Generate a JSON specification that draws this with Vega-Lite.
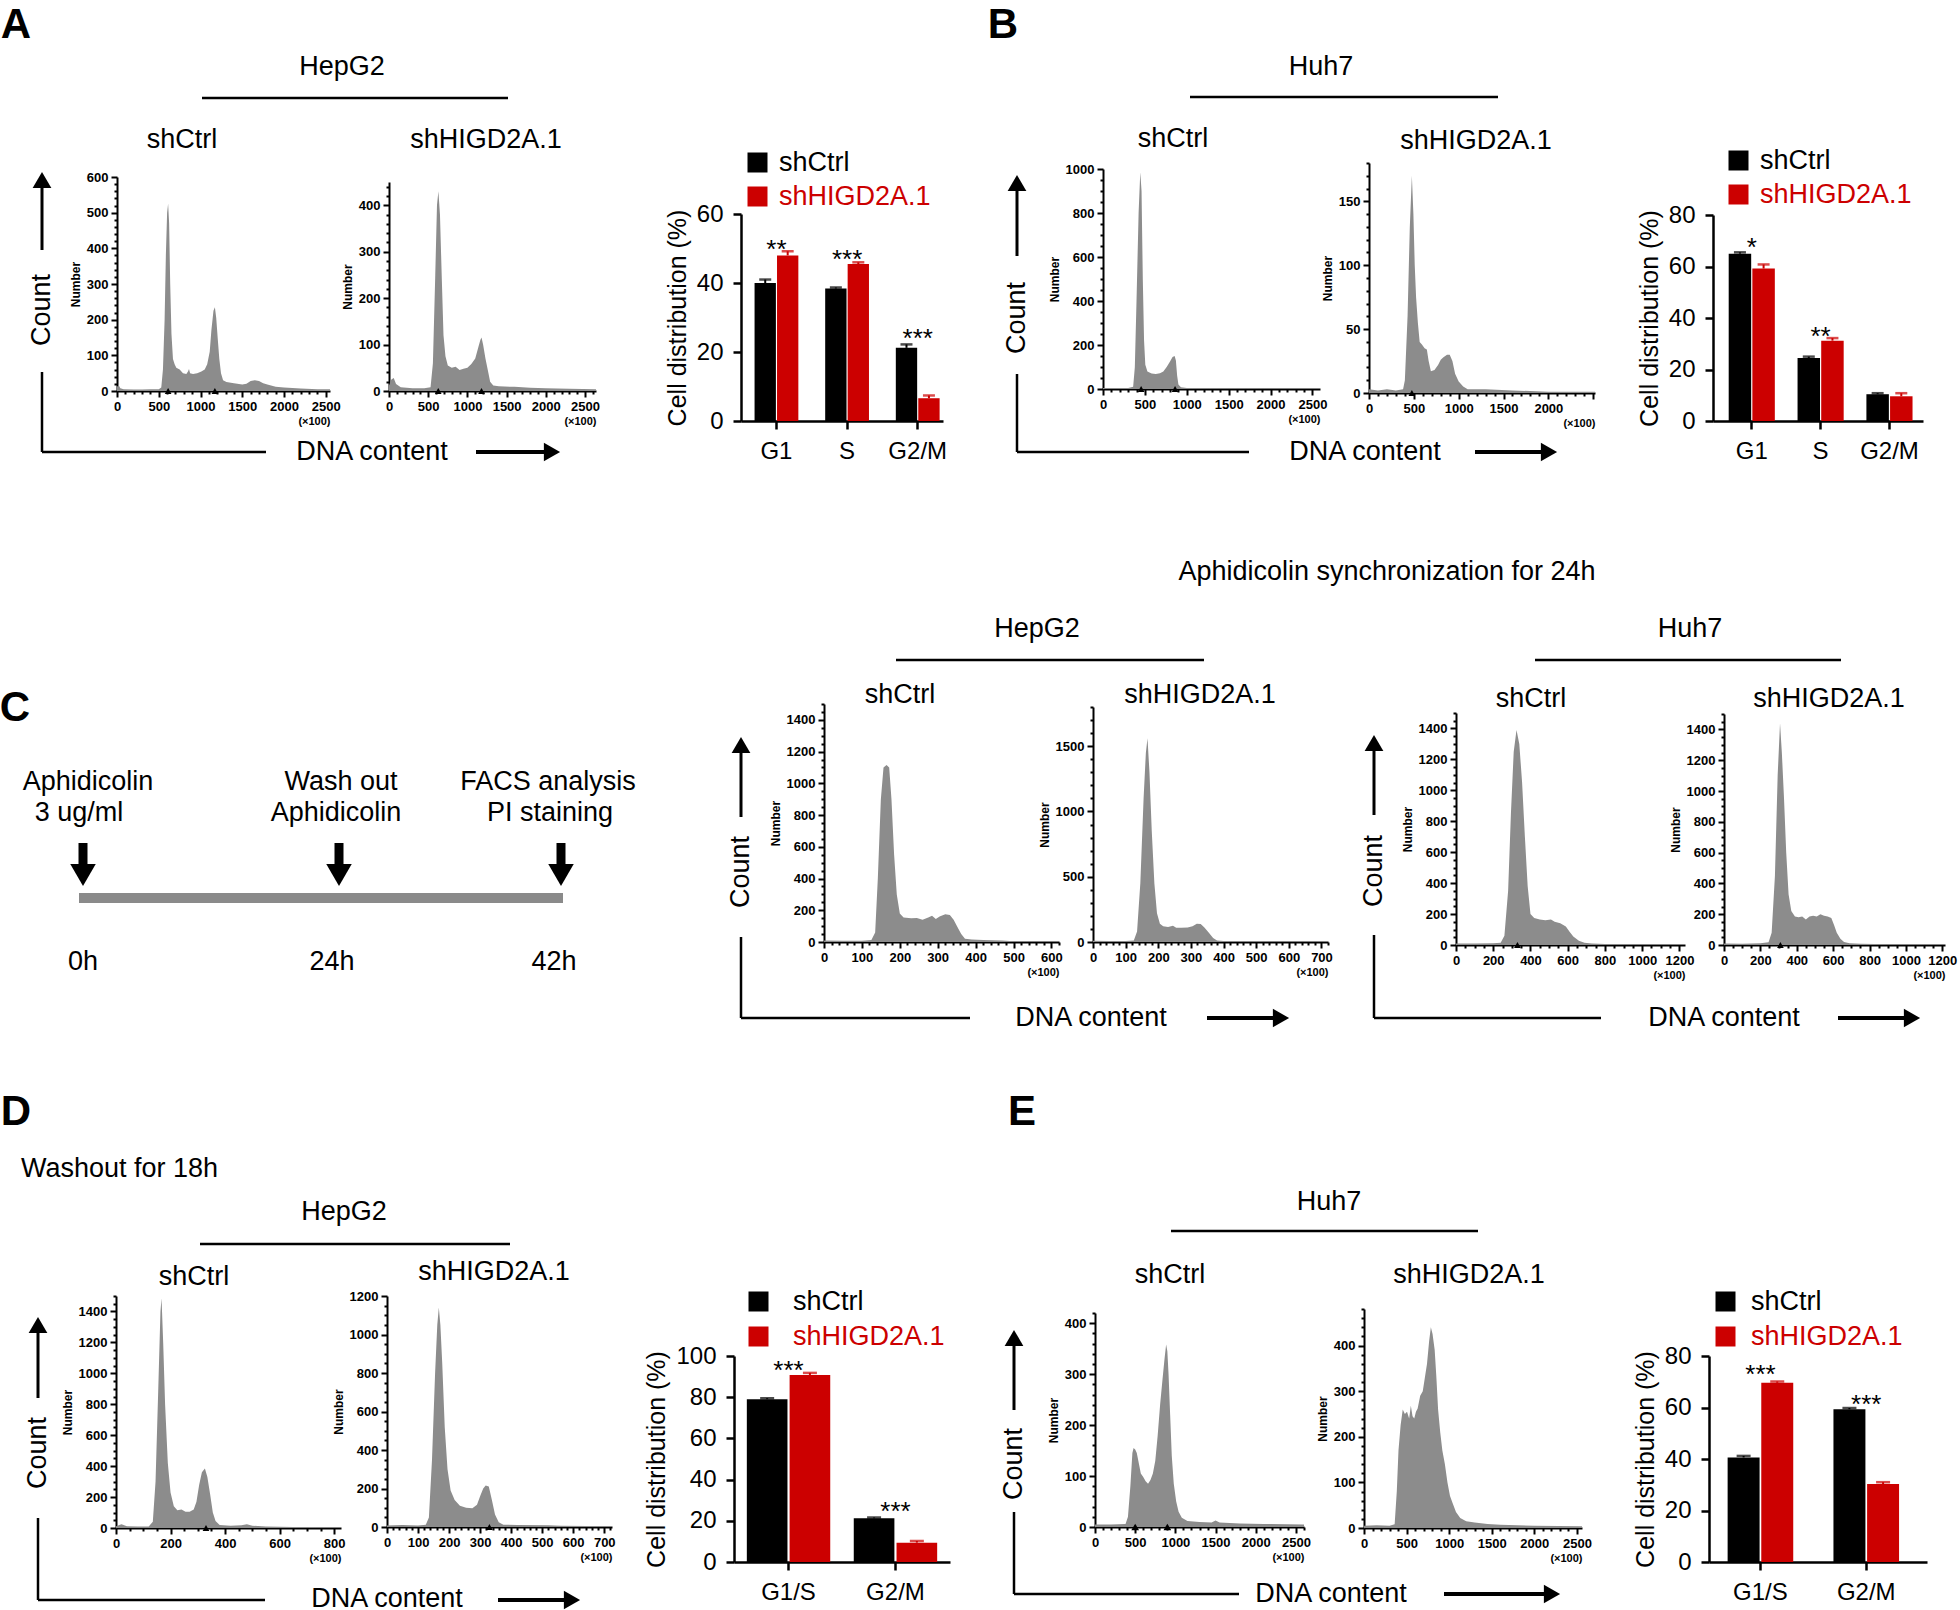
{
"$schema":"https://vega.github.io/schema/vega-lite/v6.json",
"width":1960,"height":1610,
"autosize":{"type":"none"},
"padding":0,
"background":"white",
"resolve":{"scale":{"x":"independent","y":"independent","color":"independent","xOffset":"independent"},"legend":{"color":"independent"},"axis":{"x":"independent","y":"independent"}},
"config":{
"font":"Liberation Sans",
"view":{"stroke":null},
"axis":{"domainColor":"black","domainWidth":2,"tickColor":"black","tickWidth":2,"labelColor":"black","labelFont":"Liberation Sans","labelFontWeight":"bold","labelFontSize":13,"labelPadding":3,"labelOverlap":false,"labelFlush":false,"titleFont":"Liberation Sans","titleFontWeight":"bold","titleFontSize":12,"titleColor":"black","grid":false},
"axisX":{"titleAnchor":"end","titlePadding":2},
"axisY":{"titlePadding":4},
"text":{"font":"Liberation Sans","color":"black"}
},
"datasets":{
"hist":[
{"p":"A1","x":0,"n":12},{"p":"A1","x":20,"n":16},{"p":"A1","x":40,"n":8},{"p":"A1","x":80,"n":5},{"p":"A1","x":200,"n":4},{"p":"A1","x":300,"n":4},{"p":"A1","x":400,"n":5},{"p":"A1","x":500,"n":5},{"p":"A1","x":530,"n":10},{"p":"A1","x":550,"n":60},{"p":"A1","x":570,"n":200},{"p":"A1","x":585,"n":380},{"p":"A1","x":600,"n":500},{"p":"A1","x":612,"n":525},{"p":"A1","x":624,"n":470},{"p":"A1","x":637,"n":300},{"p":"A1","x":652,"n":160},{"p":"A1","x":670,"n":90},{"p":"A1","x":690,"n":75},{"p":"A1","x":710,"n":65},{"p":"A1","x":750,"n":60},{"p":"A1","x":790,"n":50},{"p":"A1","x":830,"n":48},{"p":"A1","x":850,"n":55},{"p":"A1","x":862,"n":62},{"p":"A1","x":875,"n":50},{"p":"A1","x":910,"n":48},{"p":"A1","x":960,"n":50},{"p":"A1","x":1010,"n":55},{"p":"A1","x":1050,"n":60},{"p":"A1","x":1080,"n":75},{"p":"A1","x":1110,"n":110},{"p":"A1","x":1130,"n":170},{"p":"A1","x":1155,"n":225},{"p":"A1","x":1172,"n":235},{"p":"A1","x":1188,"n":205},{"p":"A1","x":1205,"n":150},{"p":"A1","x":1225,"n":90},{"p":"A1","x":1245,"n":50},{"p":"A1","x":1270,"n":30},{"p":"A1","x":1310,"n":25},{"p":"A1","x":1400,"n":22},{"p":"A1","x":1500,"n":18},{"p":"A1","x":1550,"n":20},{"p":"A1","x":1600,"n":28},{"p":"A1","x":1650,"n":30},{"p":"A1","x":1700,"n":28},{"p":"A1","x":1750,"n":22},{"p":"A1","x":1800,"n":18},{"p":"A1","x":1900,"n":12},{"p":"A1","x":2000,"n":10},{"p":"A1","x":2200,"n":7},{"p":"A1","x":2400,"n":5},{"p":"A1","x":2550,"n":5},
{"p":"A2","x":0,"n":12},{"p":"A2","x":30,"n":25},{"p":"A2","x":60,"n":28},{"p":"A2","x":90,"n":15},{"p":"A2","x":150,"n":8},{"p":"A2","x":300,"n":6},{"p":"A2","x":450,"n":6},{"p":"A2","x":530,"n":8},{"p":"A2","x":560,"n":60},{"p":"A2","x":590,"n":250},{"p":"A2","x":612,"n":400},{"p":"A2","x":630,"n":430},{"p":"A2","x":650,"n":380},{"p":"A2","x":672,"n":250},{"p":"A2","x":695,"n":120},{"p":"A2","x":720,"n":75},{"p":"A2","x":750,"n":55},{"p":"A2","x":800,"n":50},{"p":"A2","x":850,"n":52},{"p":"A2","x":900,"n":45},{"p":"A2","x":950,"n":48},{"p":"A2","x":1000,"n":50},{"p":"A2","x":1050,"n":58},{"p":"A2","x":1100,"n":70},{"p":"A2","x":1140,"n":95},{"p":"A2","x":1165,"n":110},{"p":"A2","x":1180,"n":115},{"p":"A2","x":1200,"n":100},{"p":"A2","x":1230,"n":70},{"p":"A2","x":1260,"n":45},{"p":"A2","x":1290,"n":20},{"p":"A2","x":1330,"n":12},{"p":"A2","x":1400,"n":10},{"p":"A2","x":1600,"n":9},{"p":"A2","x":1800,"n":7},{"p":"A2","x":2000,"n":6},{"p":"A2","x":2300,"n":5},{"p":"A2","x":2640,"n":4},
{"p":"B1","x":0,"n":5},{"p":"B1","x":100,"n":4},{"p":"B1","x":200,"n":5},{"p":"B1","x":300,"n":5},{"p":"B1","x":360,"n":10},{"p":"B1","x":380,"n":100},{"p":"B1","x":400,"n":400},{"p":"B1","x":425,"n":800},{"p":"B1","x":445,"n":985},{"p":"B1","x":460,"n":900},{"p":"B1","x":475,"n":500},{"p":"B1","x":490,"n":220},{"p":"B1","x":505,"n":110},{"p":"B1","x":530,"n":80},{"p":"B1","x":580,"n":70},{"p":"B1","x":630,"n":68},{"p":"B1","x":680,"n":72},{"p":"B1","x":720,"n":80},{"p":"B1","x":760,"n":100},{"p":"B1","x":800,"n":125},{"p":"B1","x":830,"n":145},{"p":"B1","x":855,"n":150},{"p":"B1","x":870,"n":130},{"p":"B1","x":885,"n":60},{"p":"B1","x":900,"n":20},{"p":"B1","x":930,"n":8},{"p":"B1","x":1000,"n":5},{"p":"B1","x":1200,"n":3},{"p":"B1","x":1500,"n":2},{"p":"B1","x":2000,"n":1},{"p":"B1","x":2590,"n":1},
{"p":"B2","x":0,"n":3},{"p":"B2","x":100,"n":2},{"p":"B2","x":200,"n":3},{"p":"B2","x":300,"n":2},{"p":"B2","x":380,"n":3},{"p":"B2","x":400,"n":10},{"p":"B2","x":430,"n":60},{"p":"B2","x":455,"n":130},{"p":"B2","x":478,"n":170},{"p":"B2","x":495,"n":140},{"p":"B2","x":510,"n":100},{"p":"B2","x":525,"n":75},{"p":"B2","x":545,"n":55},{"p":"B2","x":565,"n":40},{"p":"B2","x":590,"n":38},{"p":"B2","x":620,"n":35},{"p":"B2","x":645,"n":34},{"p":"B2","x":665,"n":25},{"p":"B2","x":690,"n":17},{"p":"B2","x":730,"n":18},{"p":"B2","x":770,"n":22},{"p":"B2","x":800,"n":26},{"p":"B2","x":830,"n":28},{"p":"B2","x":870,"n":30},{"p":"B2","x":900,"n":30},{"p":"B2","x":930,"n":25},{"p":"B2","x":960,"n":15},{"p":"B2","x":1000,"n":9},{"p":"B2","x":1050,"n":5},{"p":"B2","x":1100,"n":3},{"p":"B2","x":1300,"n":3},{"p":"B2","x":1600,"n":2},{"p":"B2","x":2000,"n":1},{"p":"B2","x":2520,"n":1},
{"p":"C1","x":0,"n":10},{"p":"C1","x":50,"n":8},{"p":"C1","x":100,"n":8},{"p":"C1","x":125,"n":12},{"p":"C1","x":135,"n":60},{"p":"C1","x":142,"n":400},{"p":"C1","x":150,"n":900},{"p":"C1","x":157,"n":1100},{"p":"C1","x":165,"n":1115},{"p":"C1","x":172,"n":1100},{"p":"C1","x":178,"n":900},{"p":"C1","x":185,"n":550},{"p":"C1","x":192,"n":300},{"p":"C1","x":200,"n":180},{"p":"C1","x":210,"n":155},{"p":"C1","x":230,"n":150},{"p":"C1","x":245,"n":152},{"p":"C1","x":260,"n":140},{"p":"C1","x":275,"n":155},{"p":"C1","x":285,"n":165},{"p":"C1","x":295,"n":145},{"p":"C1","x":305,"n":160},{"p":"C1","x":320,"n":175},{"p":"C1","x":332,"n":170},{"p":"C1","x":342,"n":140},{"p":"C1","x":352,"n":95},{"p":"C1","x":362,"n":50},{"p":"C1","x":372,"n":20},{"p":"C1","x":390,"n":15},{"p":"C1","x":420,"n":12},{"p":"C1","x":470,"n":10},{"p":"C1","x":500,"n":5},{"p":"C1","x":550,"n":3},{"p":"C1","x":620,"n":2},
{"p":"C2","x":0,"n":10},{"p":"C2","x":50,"n":8},{"p":"C2","x":100,"n":8},{"p":"C2","x":125,"n":12},{"p":"C2","x":135,"n":80},{"p":"C2","x":145,"n":450},{"p":"C2","x":155,"n":1100},{"p":"C2","x":162,"n":1450},{"p":"C2","x":167,"n":1560},{"p":"C2","x":173,"n":1300},{"p":"C2","x":180,"n":850},{"p":"C2","x":188,"n":450},{"p":"C2","x":196,"n":220},{"p":"C2","x":205,"n":140},{"p":"C2","x":215,"n":120},{"p":"C2","x":230,"n":115},{"p":"C2","x":245,"n":125},{"p":"C2","x":255,"n":110},{"p":"C2","x":270,"n":110},{"p":"C2","x":290,"n":112},{"p":"C2","x":305,"n":120},{"p":"C2","x":318,"n":140},{"p":"C2","x":330,"n":138},{"p":"C2","x":342,"n":110},{"p":"C2","x":355,"n":70},{"p":"C2","x":368,"n":30},{"p":"C2","x":380,"n":12},{"p":"C2","x":400,"n":8},{"p":"C2","x":450,"n":6},{"p":"C2","x":500,"n":5},{"p":"C2","x":600,"n":4},{"p":"C2","x":720,"n":3},
{"p":"C3","x":0,"n":10},{"p":"C3","x":100,"n":10},{"p":"C3","x":200,"n":12},{"p":"C3","x":240,"n":15},{"p":"C3","x":260,"n":60},{"p":"C3","x":280,"n":350},{"p":"C3","x":295,"n":850},{"p":"C3","x":310,"n":1250},{"p":"C3","x":325,"n":1390},{"p":"C3","x":340,"n":1300},{"p":"C3","x":355,"n":1050},{"p":"C3","x":370,"n":700},{"p":"C3","x":385,"n":380},{"p":"C3","x":400,"n":200},{"p":"C3","x":420,"n":175},{"p":"C3","x":450,"n":165},{"p":"C3","x":480,"n":160},{"p":"C3","x":510,"n":165},{"p":"C3","x":530,"n":150},{"p":"C3","x":560,"n":140},{"p":"C3","x":590,"n":120},{"p":"C3","x":610,"n":85},{"p":"C3","x":630,"n":55},{"p":"C3","x":660,"n":28},{"p":"C3","x":690,"n":15},{"p":"C3","x":730,"n":10},{"p":"C3","x":800,"n":7},{"p":"C3","x":1000,"n":4},{"p":"C3","x":1230,"n":3},
{"p":"C4","x":0,"n":10},{"p":"C4","x":100,"n":8},{"p":"C4","x":200,"n":12},{"p":"C4","x":245,"n":18},{"p":"C4","x":262,"n":80},{"p":"C4","x":280,"n":450},{"p":"C4","x":295,"n":1100},{"p":"C4","x":308,"n":1440},{"p":"C4","x":318,"n":1250},{"p":"C4","x":330,"n":950},{"p":"C4","x":342,"n":600},{"p":"C4","x":355,"n":330},{"p":"C4","x":370,"n":220},{"p":"C4","x":390,"n":185},{"p":"C4","x":410,"n":180},{"p":"C4","x":430,"n":185},{"p":"C4","x":450,"n":165},{"p":"C4","x":470,"n":185},{"p":"C4","x":490,"n":190},{"p":"C4","x":510,"n":185},{"p":"C4","x":530,"n":200},{"p":"C4","x":550,"n":190},{"p":"C4","x":570,"n":185},{"p":"C4","x":590,"n":175},{"p":"C4","x":605,"n":130},{"p":"C4","x":620,"n":80},{"p":"C4","x":640,"n":40},{"p":"C4","x":660,"n":20},{"p":"C4","x":690,"n":12},{"p":"C4","x":750,"n":8},{"p":"C4","x":900,"n":5},{"p":"C4","x":1215,"n":3},
{"p":"D1","x":0,"n":12},{"p":"D1","x":20,"n":25},{"p":"D1","x":40,"n":12},{"p":"D1","x":80,"n":10},{"p":"D1","x":120,"n":10},{"p":"D1","x":135,"n":40},{"p":"D1","x":145,"n":300},{"p":"D1","x":155,"n":900},{"p":"D1","x":163,"n":1400},{"p":"D1","x":167,"n":1485},{"p":"D1","x":173,"n":1200},{"p":"D1","x":180,"n":800},{"p":"D1","x":190,"n":420},{"p":"D1","x":200,"n":230},{"p":"D1","x":212,"n":140},{"p":"D1","x":225,"n":115},{"p":"D1","x":240,"n":120},{"p":"D1","x":255,"n":105},{"p":"D1","x":270,"n":105},{"p":"D1","x":285,"n":120},{"p":"D1","x":295,"n":170},{"p":"D1","x":305,"n":280},{"p":"D1","x":315,"n":360},{"p":"D1","x":326,"n":385},{"p":"D1","x":335,"n":330},{"p":"D1","x":345,"n":220},{"p":"D1","x":355,"n":100},{"p":"D1","x":365,"n":45},{"p":"D1","x":380,"n":20},{"p":"D1","x":420,"n":15},{"p":"D1","x":460,"n":18},{"p":"D1","x":480,"n":25},{"p":"D1","x":500,"n":15},{"p":"D1","x":550,"n":10},{"p":"D1","x":650,"n":6},{"p":"D1","x":825,"n":4},
{"p":"D2","x":0,"n":8},{"p":"D2","x":50,"n":10},{"p":"D2","x":100,"n":8},{"p":"D2","x":125,"n":12},{"p":"D2","x":135,"n":50},{"p":"D2","x":145,"n":350},{"p":"D2","x":155,"n":800},{"p":"D2","x":162,"n":1050},{"p":"D2","x":167,"n":1140},{"p":"D2","x":172,"n":1050},{"p":"D2","x":178,"n":850},{"p":"D2","x":186,"n":520},{"p":"D2","x":195,"n":300},{"p":"D2","x":205,"n":190},{"p":"D2","x":218,"n":140},{"p":"D2","x":235,"n":110},{"p":"D2","x":255,"n":100},{"p":"D2","x":275,"n":98},{"p":"D2","x":290,"n":115},{"p":"D2","x":300,"n":160},{"p":"D2","x":310,"n":200},{"p":"D2","x":318,"n":215},{"p":"D2","x":328,"n":210},{"p":"D2","x":338,"n":140},{"p":"D2","x":348,"n":65},{"p":"D2","x":360,"n":25},{"p":"D2","x":375,"n":12},{"p":"D2","x":420,"n":10},{"p":"D2","x":520,"n":9},{"p":"D2","x":560,"n":6},{"p":"D2","x":725,"n":4},
{"p":"E1","x":0,"n":5},{"p":"E1","x":200,"n":5},{"p":"E1","x":380,"n":6},{"p":"E1","x":410,"n":20},{"p":"E1","x":440,"n":80},{"p":"E1","x":465,"n":145},{"p":"E1","x":480,"n":155},{"p":"E1","x":500,"n":152},{"p":"E1","x":520,"n":145},{"p":"E1","x":545,"n":125},{"p":"E1","x":570,"n":105},{"p":"E1","x":600,"n":98},{"p":"E1","x":630,"n":90},{"p":"E1","x":660,"n":85},{"p":"E1","x":690,"n":92},{"p":"E1","x":720,"n":105},{"p":"E1","x":750,"n":130},{"p":"E1","x":780,"n":180},{"p":"E1","x":810,"n":240},{"p":"E1","x":840,"n":290},{"p":"E1","x":865,"n":330},{"p":"E1","x":885,"n":358},{"p":"E1","x":900,"n":345},{"p":"E1","x":915,"n":300},{"p":"E1","x":935,"n":220},{"p":"E1","x":955,"n":140},{"p":"E1","x":980,"n":85},{"p":"E1","x":1010,"n":50},{"p":"E1","x":1040,"n":30},{"p":"E1","x":1080,"n":18},{"p":"E1","x":1150,"n":12},{"p":"E1","x":1300,"n":10},{"p":"E1","x":1450,"n":9},{"p":"E1","x":1500,"n":13},{"p":"E1","x":1550,"n":9},{"p":"E1","x":1800,"n":7},{"p":"E1","x":2100,"n":6},{"p":"E1","x":2600,"n":5},
{"p":"E2","x":0,"n":5},{"p":"E2","x":150,"n":6},{"p":"E2","x":300,"n":5},{"p":"E2","x":360,"n":8},{"p":"E2","x":385,"n":80},{"p":"E2","x":405,"n":170},{"p":"E2","x":430,"n":225},{"p":"E2","x":455,"n":260},{"p":"E2","x":480,"n":250},{"p":"E2","x":505,"n":255},{"p":"E2","x":530,"n":240},{"p":"E2","x":550,"n":268},{"p":"E2","x":570,"n":245},{"p":"E2","x":590,"n":240},{"p":"E2","x":610,"n":255},{"p":"E2","x":630,"n":262},{"p":"E2","x":660,"n":290},{"p":"E2","x":690,"n":300},{"p":"E2","x":715,"n":330},{"p":"E2","x":740,"n":360},{"p":"E2","x":765,"n":410},{"p":"E2","x":785,"n":440},{"p":"E2","x":805,"n":425},{"p":"E2","x":830,"n":390},{"p":"E2","x":850,"n":330},{"p":"E2","x":870,"n":260},{"p":"E2","x":895,"n":210},{"p":"E2","x":920,"n":170},{"p":"E2","x":950,"n":140},{"p":"E2","x":980,"n":100},{"p":"E2","x":1010,"n":70},{"p":"E2","x":1040,"n":55},{"p":"E2","x":1080,"n":35},{"p":"E2","x":1130,"n":22},{"p":"E2","x":1200,"n":15},{"p":"E2","x":1300,"n":12},{"p":"E2","x":1450,"n":9},{"p":"E2","x":1600,"n":7},{"p":"E2","x":2000,"n":5},{"p":"E2","x":2560,"n":4}
],
"gates":[{"p":"A1","x":612},{"p":"A1","x":1172},{"p":"A2","x":628},{"p":"A2","x":1180},{"p":"B1","x":455},{"p":"B1","x":860},{"p":"B2","x":478},{"p":"C3","x":330},{"p":"C4","x":310},{"p":"D1","x":330},{"p":"D2","x":330},{"p":"E1","x":500},{"p":"E1","x":900}],
"bars":[
{"panel":"A","phase":"G1","group":"shCtrl","value":40.0,"upper":41.0},{"panel":"A","phase":"G1","group":"shHIGD2A.1","value":48.0,"upper":49.2},{"panel":"A","phase":"S","group":"shCtrl","value":38.4,"upper":38.7},{"panel":"A","phase":"S","group":"shHIGD2A.1","value":45.5,"upper":46.0},{"panel":"A","phase":"G2/M","group":"shCtrl","value":21.2,"upper":22.2},{"panel":"A","phase":"G2/M","group":"shHIGD2A.1","value":6.6,"upper":7.4},
{"panel":"B","phase":"G1","group":"shCtrl","value":65.0,"upper":65.5},{"panel":"B","phase":"G1","group":"shHIGD2A.1","value":59.2,"upper":60.8},{"panel":"B","phase":"S","group":"shCtrl","value":24.5,"upper":25.0},{"panel":"B","phase":"S","group":"shHIGD2A.1","value":31.2,"upper":32.2},{"panel":"B","phase":"G2/M","group":"shCtrl","value":10.4,"upper":10.8},{"panel":"B","phase":"G2/M","group":"shHIGD2A.1","value":9.6,"upper":10.8},
{"panel":"D","phase":"G1/S","group":"shCtrl","value":79.0,"upper":79.5},{"panel":"D","phase":"G1/S","group":"shHIGD2A.1","value":90.8,"upper":91.8},{"panel":"D","phase":"G2/M","group":"shCtrl","value":21.2,"upper":21.6},{"panel":"D","phase":"G2/M","group":"shHIGD2A.1","value":9.4,"upper":10.2},
{"panel":"E","phase":"G1/S","group":"shCtrl","value":40.6,"upper":41.2},{"panel":"E","phase":"G1/S","group":"shHIGD2A.1","value":69.6,"upper":70.1},{"panel":"E","phase":"G2/M","group":"shCtrl","value":59.3,"upper":59.8},{"panel":"E","phase":"G2/M","group":"shHIGD2A.1","value":30.3,"upper":31.0}
],
"stars":[
{"panel":"A","phase":"G1","stars":"**","y":51.5},{"panel":"A","phase":"S","stars":"***","y":48.6},{"panel":"A","phase":"G2/M","stars":"***","y":25.8},
{"panel":"B","phase":"G1","stars":"*","y":69.8},{"panel":"B","phase":"S","stars":"**","y":35.4},
{"panel":"D","phase":"G1/S","stars":"***","y":96},{"panel":"D","phase":"G2/M","stars":"***","y":27.8},
{"panel":"E","phase":"G1/S","stars":"***","y":75.2},{"panel":"E","phase":"G2/M","stars":"***","y":63.8}
]
},
"layer":[
{"data":{"values":[{"k":1}]},"layer":[
{"mark":{"type":"text","fontSize":42,"fontWeight":"bold"},"encoding":{"x":{"datum":16,"type":"quantitative","scale":{"domain":[0,1960],"nice":false,"zero":false},"axis":null},"y":{"datum":25,"type":"quantitative","scale":{"domain":[1610,0],"nice":false,"zero":false},"axis":null},"text":{"value":"A"}}},
{"mark":{"type":"text","fontSize":27},"encoding":{"x":{"datum":342,"type":"quantitative","scale":{"domain":[0,1960],"nice":false,"zero":false},"axis":null},"y":{"datum":67,"type":"quantitative","scale":{"domain":[1610,0],"nice":false,"zero":false},"axis":null},"text":{"value":"HepG2"}}},
{"mark":{"type":"rule","strokeWidth":2.5,"color":"black"},"encoding":{"x":{"datum":202,"type":"quantitative","scale":{"domain":[0,1960],"nice":false,"zero":false},"axis":null},"x2":{"datum":508},"y":{"datum":98,"type":"quantitative","scale":{"domain":[1610,0],"nice":false,"zero":false},"axis":null}}},
{"mark":{"type":"text","fontSize":27},"encoding":{"x":{"datum":182,"type":"quantitative","scale":{"domain":[0,1960],"nice":false,"zero":false},"axis":null},"y":{"datum":140,"type":"quantitative","scale":{"domain":[1610,0],"nice":false,"zero":false},"axis":null},"text":{"value":"shCtrl"}}},
{"mark":{"type":"text","fontSize":27},"encoding":{"x":{"datum":486,"type":"quantitative","scale":{"domain":[0,1960],"nice":false,"zero":false},"axis":null},"y":{"datum":140,"type":"quantitative","scale":{"domain":[1610,0],"nice":false,"zero":false},"axis":null},"text":{"value":"shHIGD2A.1"}}},
{"mark":{"type":"text","fontSize":42,"fontWeight":"bold"},"encoding":{"x":{"datum":1003,"type":"quantitative","scale":{"domain":[0,1960],"nice":false,"zero":false},"axis":null},"y":{"datum":25,"type":"quantitative","scale":{"domain":[1610,0],"nice":false,"zero":false},"axis":null},"text":{"value":"B"}}},
{"mark":{"type":"text","fontSize":27},"encoding":{"x":{"datum":1321,"type":"quantitative","scale":{"domain":[0,1960],"nice":false,"zero":false},"axis":null},"y":{"datum":67,"type":"quantitative","scale":{"domain":[1610,0],"nice":false,"zero":false},"axis":null},"text":{"value":"Huh7"}}},
{"mark":{"type":"rule","strokeWidth":2.5,"color":"black"},"encoding":{"x":{"datum":1190,"type":"quantitative","scale":{"domain":[0,1960],"nice":false,"zero":false},"axis":null},"x2":{"datum":1498},"y":{"datum":97,"type":"quantitative","scale":{"domain":[1610,0],"nice":false,"zero":false},"axis":null}}},
{"mark":{"type":"text","fontSize":27},"encoding":{"x":{"datum":1173,"type":"quantitative","scale":{"domain":[0,1960],"nice":false,"zero":false},"axis":null},"y":{"datum":139,"type":"quantitative","scale":{"domain":[1610,0],"nice":false,"zero":false},"axis":null},"text":{"value":"shCtrl"}}},
{"mark":{"type":"text","fontSize":27},"encoding":{"x":{"datum":1476,"type":"quantitative","scale":{"domain":[0,1960],"nice":false,"zero":false},"axis":null},"y":{"datum":141,"type":"quantitative","scale":{"domain":[1610,0],"nice":false,"zero":false},"axis":null},"text":{"value":"shHIGD2A.1"}}},

{"mark":{"type":"point","shape":"triangle-up","filled":true,"size":350,"color":"black","opacity":1},"encoding":{"x":{"datum":42,"type":"quantitative","scale":{"domain":[0,1960],"nice":false,"zero":false},"axis":null},"y":{"datum":180,"type":"quantitative","scale":{"domain":[1610,0],"nice":false,"zero":false},"axis":null}}},
{"mark":{"type":"rule","strokeWidth":3,"color":"black"},"encoding":{"x":{"datum":42,"type":"quantitative","scale":{"domain":[0,1960],"nice":false,"zero":false},"axis":null},"y":{"datum":188,"type":"quantitative","scale":{"domain":[1610,0],"nice":false,"zero":false},"axis":null},"y2":{"datum":250}}},
{"mark":{"type":"text","fontSize":27,"angle":270},"encoding":{"x":{"datum":42,"type":"quantitative","scale":{"domain":[0,1960],"nice":false,"zero":false},"axis":null},"y":{"datum":310,"type":"quantitative","scale":{"domain":[1610,0],"nice":false,"zero":false},"axis":null},"text":{"value":"Count"}}},
{"mark":{"type":"rule","strokeWidth":2.5,"color":"black"},"encoding":{"x":{"datum":42,"type":"quantitative","scale":{"domain":[0,1960],"nice":false,"zero":false},"axis":null},"y":{"datum":372,"type":"quantitative","scale":{"domain":[1610,0],"nice":false,"zero":false},"axis":null},"y2":{"datum":452}}},
{"mark":{"type":"rule","strokeWidth":2.5,"color":"black"},"encoding":{"x":{"datum":42,"type":"quantitative","scale":{"domain":[0,1960],"nice":false,"zero":false},"axis":null},"x2":{"datum":266},"y":{"datum":452,"type":"quantitative","scale":{"domain":[1610,0],"nice":false,"zero":false},"axis":null}}},
{"mark":{"type":"text","fontSize":27},"encoding":{"x":{"datum":372,"type":"quantitative","scale":{"domain":[0,1960],"nice":false,"zero":false},"axis":null},"y":{"datum":452,"type":"quantitative","scale":{"domain":[1610,0],"nice":false,"zero":false},"axis":null},"text":{"value":"DNA content"}}},
{"mark":{"type":"rule","strokeWidth":4,"color":"black"},"encoding":{"x":{"datum":476,"type":"quantitative","scale":{"domain":[0,1960],"nice":false,"zero":false},"axis":null},"x2":{"datum":546},"y":{"datum":452,"type":"quantitative","scale":{"domain":[1610,0],"nice":false,"zero":false},"axis":null}}},
{"mark":{"type":"point","shape":"triangle-right","filled":true,"size":350,"color":"black","opacity":1},"encoding":{"x":{"datum":552,"type":"quantitative","scale":{"domain":[0,1960],"nice":false,"zero":false},"axis":null},"y":{"datum":452,"type":"quantitative","scale":{"domain":[1610,0],"nice":false,"zero":false},"axis":null}}},

{"mark":{"type":"point","shape":"triangle-up","filled":true,"size":350,"color":"black","opacity":1},"encoding":{"x":{"datum":1017,"type":"quantitative","scale":{"domain":[0,1960],"nice":false,"zero":false},"axis":null},"y":{"datum":183,"type":"quantitative","scale":{"domain":[1610,0],"nice":false,"zero":false},"axis":null}}},
{"mark":{"type":"rule","strokeWidth":3,"color":"black"},"encoding":{"x":{"datum":1017,"type":"quantitative","scale":{"domain":[0,1960],"nice":false,"zero":false},"axis":null},"y":{"datum":191,"type":"quantitative","scale":{"domain":[1610,0],"nice":false,"zero":false},"axis":null},"y2":{"datum":256}}},
{"mark":{"type":"text","fontSize":27,"angle":270},"encoding":{"x":{"datum":1017,"type":"quantitative","scale":{"domain":[0,1960],"nice":false,"zero":false},"axis":null},"y":{"datum":318,"type":"quantitative","scale":{"domain":[1610,0],"nice":false,"zero":false},"axis":null},"text":{"value":"Count"}}},
{"mark":{"type":"rule","strokeWidth":2.5,"color":"black"},"encoding":{"x":{"datum":1017,"type":"quantitative","scale":{"domain":[0,1960],"nice":false,"zero":false},"axis":null},"y":{"datum":374,"type":"quantitative","scale":{"domain":[1610,0],"nice":false,"zero":false},"axis":null},"y2":{"datum":452}}},
{"mark":{"type":"rule","strokeWidth":2.5,"color":"black"},"encoding":{"x":{"datum":1017,"type":"quantitative","scale":{"domain":[0,1960],"nice":false,"zero":false},"axis":null},"x2":{"datum":1249},"y":{"datum":452,"type":"quantitative","scale":{"domain":[1610,0],"nice":false,"zero":false},"axis":null}}},
{"mark":{"type":"text","fontSize":27},"encoding":{"x":{"datum":1365,"type":"quantitative","scale":{"domain":[0,1960],"nice":false,"zero":false},"axis":null},"y":{"datum":452,"type":"quantitative","scale":{"domain":[1610,0],"nice":false,"zero":false},"axis":null},"text":{"value":"DNA content"}}},
{"mark":{"type":"rule","strokeWidth":4,"color":"black"},"encoding":{"x":{"datum":1475,"type":"quantitative","scale":{"domain":[0,1960],"nice":false,"zero":false},"axis":null},"x2":{"datum":1543},"y":{"datum":452,"type":"quantitative","scale":{"domain":[1610,0],"nice":false,"zero":false},"axis":null}}},
{"mark":{"type":"point","shape":"triangle-right","filled":true,"size":350,"color":"black","opacity":1},"encoding":{"x":{"datum":1549,"type":"quantitative","scale":{"domain":[0,1960],"nice":false,"zero":false},"axis":null},"y":{"datum":452,"type":"quantitative","scale":{"domain":[1610,0],"nice":false,"zero":false},"axis":null}}},

{"mark":{"type":"text","fontSize":27},"encoding":{"x":{"datum":1387,"type":"quantitative","scale":{"domain":[0,1960],"nice":false,"zero":false},"axis":null},"y":{"datum":572,"type":"quantitative","scale":{"domain":[1610,0],"nice":false,"zero":false},"axis":null},"text":{"value":"Aphidicolin synchronization for 24h"}}},
{"mark":{"type":"text","fontSize":27},"encoding":{"x":{"datum":1037,"type":"quantitative","scale":{"domain":[0,1960],"nice":false,"zero":false},"axis":null},"y":{"datum":629,"type":"quantitative","scale":{"domain":[1610,0],"nice":false,"zero":false},"axis":null},"text":{"value":"HepG2"}}},
{"mark":{"type":"rule","strokeWidth":2.5,"color":"black"},"encoding":{"x":{"datum":896,"type":"quantitative","scale":{"domain":[0,1960],"nice":false,"zero":false},"axis":null},"x2":{"datum":1204},"y":{"datum":660,"type":"quantitative","scale":{"domain":[1610,0],"nice":false,"zero":false},"axis":null}}},
{"mark":{"type":"text","fontSize":27},"encoding":{"x":{"datum":1690,"type":"quantitative","scale":{"domain":[0,1960],"nice":false,"zero":false},"axis":null},"y":{"datum":629,"type":"quantitative","scale":{"domain":[1610,0],"nice":false,"zero":false},"axis":null},"text":{"value":"Huh7"}}},
{"mark":{"type":"rule","strokeWidth":2.5,"color":"black"},"encoding":{"x":{"datum":1535,"type":"quantitative","scale":{"domain":[0,1960],"nice":false,"zero":false},"axis":null},"x2":{"datum":1841},"y":{"datum":660,"type":"quantitative","scale":{"domain":[1610,0],"nice":false,"zero":false},"axis":null}}},
{"mark":{"type":"text","fontSize":27},"encoding":{"x":{"datum":900,"type":"quantitative","scale":{"domain":[0,1960],"nice":false,"zero":false},"axis":null},"y":{"datum":695,"type":"quantitative","scale":{"domain":[1610,0],"nice":false,"zero":false},"axis":null},"text":{"value":"shCtrl"}}},
{"mark":{"type":"text","fontSize":27},"encoding":{"x":{"datum":1200,"type":"quantitative","scale":{"domain":[0,1960],"nice":false,"zero":false},"axis":null},"y":{"datum":695,"type":"quantitative","scale":{"domain":[1610,0],"nice":false,"zero":false},"axis":null},"text":{"value":"shHIGD2A.1"}}},
{"mark":{"type":"text","fontSize":27},"encoding":{"x":{"datum":1531,"type":"quantitative","scale":{"domain":[0,1960],"nice":false,"zero":false},"axis":null},"y":{"datum":699,"type":"quantitative","scale":{"domain":[1610,0],"nice":false,"zero":false},"axis":null},"text":{"value":"shCtrl"}}},
{"mark":{"type":"text","fontSize":27},"encoding":{"x":{"datum":1829,"type":"quantitative","scale":{"domain":[0,1960],"nice":false,"zero":false},"axis":null},"y":{"datum":699,"type":"quantitative","scale":{"domain":[1610,0],"nice":false,"zero":false},"axis":null},"text":{"value":"shHIGD2A.1"}}},

{"mark":{"type":"text","fontSize":42,"fontWeight":"bold"},"encoding":{"x":{"datum":15,"type":"quantitative","scale":{"domain":[0,1960],"nice":false,"zero":false},"axis":null},"y":{"datum":708,"type":"quantitative","scale":{"domain":[1610,0],"nice":false,"zero":false},"axis":null},"text":{"value":"C"}}},
{"mark":{"type":"text","fontSize":27},"encoding":{"x":{"datum":88,"type":"quantitative","scale":{"domain":[0,1960],"nice":false,"zero":false},"axis":null},"y":{"datum":782,"type":"quantitative","scale":{"domain":[1610,0],"nice":false,"zero":false},"axis":null},"text":{"value":"Aphidicolin"}}},
{"mark":{"type":"text","fontSize":27},"encoding":{"x":{"datum":79,"type":"quantitative","scale":{"domain":[0,1960],"nice":false,"zero":false},"axis":null},"y":{"datum":813,"type":"quantitative","scale":{"domain":[1610,0],"nice":false,"zero":false},"axis":null},"text":{"value":"3 ug/ml"}}},
{"mark":{"type":"text","fontSize":27},"encoding":{"x":{"datum":341,"type":"quantitative","scale":{"domain":[0,1960],"nice":false,"zero":false},"axis":null},"y":{"datum":782,"type":"quantitative","scale":{"domain":[1610,0],"nice":false,"zero":false},"axis":null},"text":{"value":"Wash out"}}},
{"mark":{"type":"text","fontSize":27},"encoding":{"x":{"datum":336,"type":"quantitative","scale":{"domain":[0,1960],"nice":false,"zero":false},"axis":null},"y":{"datum":813,"type":"quantitative","scale":{"domain":[1610,0],"nice":false,"zero":false},"axis":null},"text":{"value":"Aphidicolin"}}},
{"mark":{"type":"text","fontSize":27},"encoding":{"x":{"datum":548,"type":"quantitative","scale":{"domain":[0,1960],"nice":false,"zero":false},"axis":null},"y":{"datum":782,"type":"quantitative","scale":{"domain":[1610,0],"nice":false,"zero":false},"axis":null},"text":{"value":"FACS analysis"}}},
{"mark":{"type":"text","fontSize":27},"encoding":{"x":{"datum":550,"type":"quantitative","scale":{"domain":[0,1960],"nice":false,"zero":false},"axis":null},"y":{"datum":813,"type":"quantitative","scale":{"domain":[1610,0],"nice":false,"zero":false},"axis":null},"text":{"value":"PI staining"}}},
{"mark":{"type":"rule","strokeWidth":9,"color":"black"},"encoding":{"x":{"datum":83,"type":"quantitative","scale":{"domain":[0,1960],"nice":false,"zero":false},"axis":null},"y":{"datum":843,"type":"quantitative","scale":{"domain":[1610,0],"nice":false,"zero":false},"axis":null},"y2":{"datum":868}}},
{"mark":{"type":"rule","strokeWidth":9,"color":"black"},"encoding":{"x":{"datum":339,"type":"quantitative","scale":{"domain":[0,1960],"nice":false,"zero":false},"axis":null},"y":{"datum":843,"type":"quantitative","scale":{"domain":[1610,0],"nice":false,"zero":false},"axis":null},"y2":{"datum":868}}},
{"mark":{"type":"rule","strokeWidth":9,"color":"black"},"encoding":{"x":{"datum":561,"type":"quantitative","scale":{"domain":[0,1960],"nice":false,"zero":false},"axis":null},"y":{"datum":843,"type":"quantitative","scale":{"domain":[1610,0],"nice":false,"zero":false},"axis":null},"y2":{"datum":868}}},
{"mark":{"type":"point","shape":"triangle-down","filled":true,"size":650,"color":"black","opacity":1},"encoding":{"x":{"datum":83,"type":"quantitative","scale":{"domain":[0,1960],"nice":false,"zero":false},"axis":null},"y":{"datum":875,"type":"quantitative","scale":{"domain":[1610,0],"nice":false,"zero":false},"axis":null}}},
{"mark":{"type":"point","shape":"triangle-down","filled":true,"size":650,"color":"black","opacity":1},"encoding":{"x":{"datum":339,"type":"quantitative","scale":{"domain":[0,1960],"nice":false,"zero":false},"axis":null},"y":{"datum":875,"type":"quantitative","scale":{"domain":[1610,0],"nice":false,"zero":false},"axis":null}}},
{"mark":{"type":"point","shape":"triangle-down","filled":true,"size":650,"color":"black","opacity":1},"encoding":{"x":{"datum":561,"type":"quantitative","scale":{"domain":[0,1960],"nice":false,"zero":false},"axis":null},"y":{"datum":875,"type":"quantitative","scale":{"domain":[1610,0],"nice":false,"zero":false},"axis":null}}},
{"mark":{"type":"rule","strokeWidth":10,"color":"#8a8a8a"},"encoding":{"x":{"datum":79,"type":"quantitative","scale":{"domain":[0,1960],"nice":false,"zero":false},"axis":null},"x2":{"datum":563},"y":{"datum":898,"type":"quantitative","scale":{"domain":[1610,0],"nice":false,"zero":false},"axis":null}}},
{"mark":{"type":"text","fontSize":27},"encoding":{"x":{"datum":83,"type":"quantitative","scale":{"domain":[0,1960],"nice":false,"zero":false},"axis":null},"y":{"datum":962,"type":"quantitative","scale":{"domain":[1610,0],"nice":false,"zero":false},"axis":null},"text":{"value":"0h"}}},
{"mark":{"type":"text","fontSize":27},"encoding":{"x":{"datum":332,"type":"quantitative","scale":{"domain":[0,1960],"nice":false,"zero":false},"axis":null},"y":{"datum":962,"type":"quantitative","scale":{"domain":[1610,0],"nice":false,"zero":false},"axis":null},"text":{"value":"24h"}}},
{"mark":{"type":"text","fontSize":27},"encoding":{"x":{"datum":554,"type":"quantitative","scale":{"domain":[0,1960],"nice":false,"zero":false},"axis":null},"y":{"datum":962,"type":"quantitative","scale":{"domain":[1610,0],"nice":false,"zero":false},"axis":null},"text":{"value":"42h"}}},

{"mark":{"type":"point","shape":"triangle-up","filled":true,"size":350,"color":"black","opacity":1},"encoding":{"x":{"datum":741,"type":"quantitative","scale":{"domain":[0,1960],"nice":false,"zero":false},"axis":null},"y":{"datum":745,"type":"quantitative","scale":{"domain":[1610,0],"nice":false,"zero":false},"axis":null}}},
{"mark":{"type":"rule","strokeWidth":3,"color":"black"},"encoding":{"x":{"datum":741,"type":"quantitative","scale":{"domain":[0,1960],"nice":false,"zero":false},"axis":null},"y":{"datum":753,"type":"quantitative","scale":{"domain":[1610,0],"nice":false,"zero":false},"axis":null},"y2":{"datum":817}}},
{"mark":{"type":"text","fontSize":27,"angle":270},"encoding":{"x":{"datum":741,"type":"quantitative","scale":{"domain":[0,1960],"nice":false,"zero":false},"axis":null},"y":{"datum":872,"type":"quantitative","scale":{"domain":[1610,0],"nice":false,"zero":false},"axis":null},"text":{"value":"Count"}}},
{"mark":{"type":"rule","strokeWidth":2.5,"color":"black"},"encoding":{"x":{"datum":741,"type":"quantitative","scale":{"domain":[0,1960],"nice":false,"zero":false},"axis":null},"y":{"datum":937,"type":"quantitative","scale":{"domain":[1610,0],"nice":false,"zero":false},"axis":null},"y2":{"datum":1018}}},
{"mark":{"type":"rule","strokeWidth":2.5,"color":"black"},"encoding":{"x":{"datum":741,"type":"quantitative","scale":{"domain":[0,1960],"nice":false,"zero":false},"axis":null},"x2":{"datum":970},"y":{"datum":1018,"type":"quantitative","scale":{"domain":[1610,0],"nice":false,"zero":false},"axis":null}}},
{"mark":{"type":"text","fontSize":27},"encoding":{"x":{"datum":1091,"type":"quantitative","scale":{"domain":[0,1960],"nice":false,"zero":false},"axis":null},"y":{"datum":1018,"type":"quantitative","scale":{"domain":[1610,0],"nice":false,"zero":false},"axis":null},"text":{"value":"DNA content"}}},
{"mark":{"type":"rule","strokeWidth":4,"color":"black"},"encoding":{"x":{"datum":1207,"type":"quantitative","scale":{"domain":[0,1960],"nice":false,"zero":false},"axis":null},"x2":{"datum":1276},"y":{"datum":1018,"type":"quantitative","scale":{"domain":[1610,0],"nice":false,"zero":false},"axis":null}}},
{"mark":{"type":"point","shape":"triangle-right","filled":true,"size":350,"color":"black","opacity":1},"encoding":{"x":{"datum":1281,"type":"quantitative","scale":{"domain":[0,1960],"nice":false,"zero":false},"axis":null},"y":{"datum":1018,"type":"quantitative","scale":{"domain":[1610,0],"nice":false,"zero":false},"axis":null}}},

{"mark":{"type":"point","shape":"triangle-up","filled":true,"size":350,"color":"black","opacity":1},"encoding":{"x":{"datum":1374,"type":"quantitative","scale":{"domain":[0,1960],"nice":false,"zero":false},"axis":null},"y":{"datum":743,"type":"quantitative","scale":{"domain":[1610,0],"nice":false,"zero":false},"axis":null}}},
{"mark":{"type":"rule","strokeWidth":3,"color":"black"},"encoding":{"x":{"datum":1374,"type":"quantitative","scale":{"domain":[0,1960],"nice":false,"zero":false},"axis":null},"y":{"datum":751,"type":"quantitative","scale":{"domain":[1610,0],"nice":false,"zero":false},"axis":null},"y2":{"datum":815}}},
{"mark":{"type":"text","fontSize":27,"angle":270},"encoding":{"x":{"datum":1374,"type":"quantitative","scale":{"domain":[0,1960],"nice":false,"zero":false},"axis":null},"y":{"datum":871,"type":"quantitative","scale":{"domain":[1610,0],"nice":false,"zero":false},"axis":null},"text":{"value":"Count"}}},
{"mark":{"type":"rule","strokeWidth":2.5,"color":"black"},"encoding":{"x":{"datum":1374,"type":"quantitative","scale":{"domain":[0,1960],"nice":false,"zero":false},"axis":null},"y":{"datum":935,"type":"quantitative","scale":{"domain":[1610,0],"nice":false,"zero":false},"axis":null},"y2":{"datum":1018}}},
{"mark":{"type":"rule","strokeWidth":2.5,"color":"black"},"encoding":{"x":{"datum":1374,"type":"quantitative","scale":{"domain":[0,1960],"nice":false,"zero":false},"axis":null},"x2":{"datum":1601},"y":{"datum":1018,"type":"quantitative","scale":{"domain":[1610,0],"nice":false,"zero":false},"axis":null}}},
{"mark":{"type":"text","fontSize":27},"encoding":{"x":{"datum":1724,"type":"quantitative","scale":{"domain":[0,1960],"nice":false,"zero":false},"axis":null},"y":{"datum":1018,"type":"quantitative","scale":{"domain":[1610,0],"nice":false,"zero":false},"axis":null},"text":{"value":"DNA content"}}},
{"mark":{"type":"rule","strokeWidth":4,"color":"black"},"encoding":{"x":{"datum":1838,"type":"quantitative","scale":{"domain":[0,1960],"nice":false,"zero":false},"axis":null},"x2":{"datum":1907},"y":{"datum":1018,"type":"quantitative","scale":{"domain":[1610,0],"nice":false,"zero":false},"axis":null}}},
{"mark":{"type":"point","shape":"triangle-right","filled":true,"size":350,"color":"black","opacity":1},"encoding":{"x":{"datum":1912,"type":"quantitative","scale":{"domain":[0,1960],"nice":false,"zero":false},"axis":null},"y":{"datum":1018,"type":"quantitative","scale":{"domain":[1610,0],"nice":false,"zero":false},"axis":null}}},

{"mark":{"type":"text","fontSize":42,"fontWeight":"bold"},"encoding":{"x":{"datum":16,"type":"quantitative","scale":{"domain":[0,1960],"nice":false,"zero":false},"axis":null},"y":{"datum":1112,"type":"quantitative","scale":{"domain":[1610,0],"nice":false,"zero":false},"axis":null},"text":{"value":"D"}}},
{"mark":{"type":"text","fontSize":42,"fontWeight":"bold"},"encoding":{"x":{"datum":1022,"type":"quantitative","scale":{"domain":[0,1960],"nice":false,"zero":false},"axis":null},"y":{"datum":1112,"type":"quantitative","scale":{"domain":[1610,0],"nice":false,"zero":false},"axis":null},"text":{"value":"E"}}},
{"mark":{"type":"text","fontSize":27,"align":"left"},"encoding":{"x":{"datum":21,"type":"quantitative","scale":{"domain":[0,1960],"nice":false,"zero":false},"axis":null},"y":{"datum":1169,"type":"quantitative","scale":{"domain":[1610,0],"nice":false,"zero":false},"axis":null},"text":{"value":"Washout for 18h"}}},
{"mark":{"type":"text","fontSize":27},"encoding":{"x":{"datum":344,"type":"quantitative","scale":{"domain":[0,1960],"nice":false,"zero":false},"axis":null},"y":{"datum":1212,"type":"quantitative","scale":{"domain":[1610,0],"nice":false,"zero":false},"axis":null},"text":{"value":"HepG2"}}},
{"mark":{"type":"rule","strokeWidth":2.5,"color":"black"},"encoding":{"x":{"datum":200,"type":"quantitative","scale":{"domain":[0,1960],"nice":false,"zero":false},"axis":null},"x2":{"datum":510},"y":{"datum":1244,"type":"quantitative","scale":{"domain":[1610,0],"nice":false,"zero":false},"axis":null}}},
{"mark":{"type":"text","fontSize":27},"encoding":{"x":{"datum":194,"type":"quantitative","scale":{"domain":[0,1960],"nice":false,"zero":false},"axis":null},"y":{"datum":1277,"type":"quantitative","scale":{"domain":[1610,0],"nice":false,"zero":false},"axis":null},"text":{"value":"shCtrl"}}},
{"mark":{"type":"text","fontSize":27},"encoding":{"x":{"datum":494,"type":"quantitative","scale":{"domain":[0,1960],"nice":false,"zero":false},"axis":null},"y":{"datum":1272,"type":"quantitative","scale":{"domain":[1610,0],"nice":false,"zero":false},"axis":null},"text":{"value":"shHIGD2A.1"}}},
{"mark":{"type":"text","fontSize":27},"encoding":{"x":{"datum":1329,"type":"quantitative","scale":{"domain":[0,1960],"nice":false,"zero":false},"axis":null},"y":{"datum":1202,"type":"quantitative","scale":{"domain":[1610,0],"nice":false,"zero":false},"axis":null},"text":{"value":"Huh7"}}},
{"mark":{"type":"rule","strokeWidth":2.5,"color":"black"},"encoding":{"x":{"datum":1171,"type":"quantitative","scale":{"domain":[0,1960],"nice":false,"zero":false},"axis":null},"x2":{"datum":1478},"y":{"datum":1231,"type":"quantitative","scale":{"domain":[1610,0],"nice":false,"zero":false},"axis":null}}},
{"mark":{"type":"text","fontSize":27},"encoding":{"x":{"datum":1170,"type":"quantitative","scale":{"domain":[0,1960],"nice":false,"zero":false},"axis":null},"y":{"datum":1275,"type":"quantitative","scale":{"domain":[1610,0],"nice":false,"zero":false},"axis":null},"text":{"value":"shCtrl"}}},
{"mark":{"type":"text","fontSize":27},"encoding":{"x":{"datum":1469,"type":"quantitative","scale":{"domain":[0,1960],"nice":false,"zero":false},"axis":null},"y":{"datum":1275,"type":"quantitative","scale":{"domain":[1610,0],"nice":false,"zero":false},"axis":null},"text":{"value":"shHIGD2A.1"}}},

{"mark":{"type":"point","shape":"triangle-up","filled":true,"size":350,"color":"black","opacity":1},"encoding":{"x":{"datum":38,"type":"quantitative","scale":{"domain":[0,1960],"nice":false,"zero":false},"axis":null},"y":{"datum":1325,"type":"quantitative","scale":{"domain":[1610,0],"nice":false,"zero":false},"axis":null}}},
{"mark":{"type":"rule","strokeWidth":3,"color":"black"},"encoding":{"x":{"datum":38,"type":"quantitative","scale":{"domain":[0,1960],"nice":false,"zero":false},"axis":null},"y":{"datum":1333,"type":"quantitative","scale":{"domain":[1610,0],"nice":false,"zero":false},"axis":null},"y2":{"datum":1398}}},
{"mark":{"type":"text","fontSize":27,"angle":270},"encoding":{"x":{"datum":38,"type":"quantitative","scale":{"domain":[0,1960],"nice":false,"zero":false},"axis":null},"y":{"datum":1453,"type":"quantitative","scale":{"domain":[1610,0],"nice":false,"zero":false},"axis":null},"text":{"value":"Count"}}},
{"mark":{"type":"rule","strokeWidth":2.5,"color":"black"},"encoding":{"x":{"datum":38,"type":"quantitative","scale":{"domain":[0,1960],"nice":false,"zero":false},"axis":null},"y":{"datum":1518,"type":"quantitative","scale":{"domain":[1610,0],"nice":false,"zero":false},"axis":null},"y2":{"datum":1600}}},
{"mark":{"type":"rule","strokeWidth":2.5,"color":"black"},"encoding":{"x":{"datum":38,"type":"quantitative","scale":{"domain":[0,1960],"nice":false,"zero":false},"axis":null},"x2":{"datum":265},"y":{"datum":1600,"type":"quantitative","scale":{"domain":[1610,0],"nice":false,"zero":false},"axis":null}}},
{"mark":{"type":"text","fontSize":27},"encoding":{"x":{"datum":387,"type":"quantitative","scale":{"domain":[0,1960],"nice":false,"zero":false},"axis":null},"y":{"datum":1599,"type":"quantitative","scale":{"domain":[1610,0],"nice":false,"zero":false},"axis":null},"text":{"value":"DNA content"}}},
{"mark":{"type":"rule","strokeWidth":4,"color":"black"},"encoding":{"x":{"datum":498,"type":"quantitative","scale":{"domain":[0,1960],"nice":false,"zero":false},"axis":null},"x2":{"datum":566},"y":{"datum":1600,"type":"quantitative","scale":{"domain":[1610,0],"nice":false,"zero":false},"axis":null}}},
{"mark":{"type":"point","shape":"triangle-right","filled":true,"size":350,"color":"black","opacity":1},"encoding":{"x":{"datum":572,"type":"quantitative","scale":{"domain":[0,1960],"nice":false,"zero":false},"axis":null},"y":{"datum":1600,"type":"quantitative","scale":{"domain":[1610,0],"nice":false,"zero":false},"axis":null}}},

{"mark":{"type":"point","shape":"triangle-up","filled":true,"size":350,"color":"black","opacity":1},"encoding":{"x":{"datum":1014,"type":"quantitative","scale":{"domain":[0,1960],"nice":false,"zero":false},"axis":null},"y":{"datum":1338,"type":"quantitative","scale":{"domain":[1610,0],"nice":false,"zero":false},"axis":null}}},
{"mark":{"type":"rule","strokeWidth":3,"color":"black"},"encoding":{"x":{"datum":1014,"type":"quantitative","scale":{"domain":[0,1960],"nice":false,"zero":false},"axis":null},"y":{"datum":1346,"type":"quantitative","scale":{"domain":[1610,0],"nice":false,"zero":false},"axis":null},"y2":{"datum":1410}}},
{"mark":{"type":"text","fontSize":27,"angle":270},"encoding":{"x":{"datum":1014,"type":"quantitative","scale":{"domain":[0,1960],"nice":false,"zero":false},"axis":null},"y":{"datum":1464,"type":"quantitative","scale":{"domain":[1610,0],"nice":false,"zero":false},"axis":null},"text":{"value":"Count"}}},
{"mark":{"type":"rule","strokeWidth":2.5,"color":"black"},"encoding":{"x":{"datum":1014,"type":"quantitative","scale":{"domain":[0,1960],"nice":false,"zero":false},"axis":null},"y":{"datum":1512,"type":"quantitative","scale":{"domain":[1610,0],"nice":false,"zero":false},"axis":null},"y2":{"datum":1594}}},
{"mark":{"type":"rule","strokeWidth":2.5,"color":"black"},"encoding":{"x":{"datum":1014,"type":"quantitative","scale":{"domain":[0,1960],"nice":false,"zero":false},"axis":null},"x2":{"datum":1239},"y":{"datum":1594,"type":"quantitative","scale":{"domain":[1610,0],"nice":false,"zero":false},"axis":null}}},
{"mark":{"type":"text","fontSize":27},"encoding":{"x":{"datum":1331,"type":"quantitative","scale":{"domain":[0,1960],"nice":false,"zero":false},"axis":null},"y":{"datum":1594,"type":"quantitative","scale":{"domain":[1610,0],"nice":false,"zero":false},"axis":null},"text":{"value":"DNA content"}}},
{"mark":{"type":"rule","strokeWidth":4,"color":"black"},"encoding":{"x":{"datum":1444,"type":"quantitative","scale":{"domain":[0,1960],"nice":false,"zero":false},"axis":null},"x2":{"datum":1546},"y":{"datum":1594,"type":"quantitative","scale":{"domain":[1610,0],"nice":false,"zero":false},"axis":null}}},
{"mark":{"type":"point","shape":"triangle-right","filled":true,"size":350,"color":"black","opacity":1},"encoding":{"x":{"datum":1552,"type":"quantitative","scale":{"domain":[0,1960],"nice":false,"zero":false},"axis":null},"y":{"datum":1594,"type":"quantitative","scale":{"domain":[1610,0],"nice":false,"zero":false},"axis":null}}}
]},

{"layer":[
{"data":{"name":"hist"},"transform":[{"filter":"datum.p === 'A1'"}],"mark":{"type":"area","color":"#8c8c8c"},"encoding":{
"x":{"field":"x","type":"quantitative","scale":{"domain":[0,2550],"range":[117,330],"nice":false,"zero":false},"axis":{"orient":"bottom","offset":-1219,"values":[0,100,200,300,400,500,600,700,800,900,1000,1100,1200,1300,1400,1500,1600,1700,1800,1900,2000,2100,2200,2300,2400,2500],"format":"d","labelExpr":"datum.value % 500 === 0 ? datum.label : ''","tickSize":{"condition":{"test":"datum.value % 500 === 0","value":6},"value":3},"title":"(×100)","titleFontSize":11}},
"y":{"field":"n","type":"quantitative","scale":{"domain":[0,600],"range":[391,177],"nice":false,"zero":false},"axis":{"orient":"left","offset":-117,"values":[0,20,40,60,80,100,120,140,160,180,200,220,240,260,280,300,320,340,360,380,400,420,440,460,480,500,520,540,560,580,600],"format":"d","labelExpr":"datum.value % 100 === 0 ? datum.label : ''","tickSize":{"condition":{"test":"datum.value % 100 === 0","value":6},"value":3},"title":"Number"}}}},
{"data":{"name":"gates"},"transform":[{"filter":"datum.p === 'A1'"}],"mark":{"type":"point","shape":"triangle-up","filled":true,"color":"black","size":45,"opacity":1},"encoding":{"x":{"field":"x","type":"quantitative"},"y":{"datum":0,"type":"quantitative"}}}
]},
{"layer":[
{"data":{"name":"hist"},"transform":[{"filter":"datum.p === 'A2'"}],"mark":{"type":"area","color":"#8c8c8c"},"encoding":{
"x":{"field":"x","type":"quantitative","scale":{"domain":[0,2640],"range":[389,596],"nice":false,"zero":false},"axis":{"orient":"bottom","offset":-1219,"values":[0,100,200,300,400,500,600,700,800,900,1000,1100,1200,1300,1400,1500,1600,1700,1800,1900,2000,2100,2200,2300,2400,2500,2600],"format":"d","labelExpr":"datum.value % 500 === 0 ? datum.label : ''","tickSize":{"condition":{"test":"datum.value % 500 === 0","value":6},"value":3},"title":"(×100)","titleFontSize":11}},
"y":{"field":"n","type":"quantitative","scale":{"domain":[0,450],"range":[391,182],"nice":false,"zero":false},"axis":{"orient":"left","offset":-389,"values":[0,20,40,60,80,100,120,140,160,180,200,220,240,260,280,300,320,340,360,380,400,420,440],"format":"d","labelExpr":"datum.value % 100 === 0 ? datum.label : ''","tickSize":{"condition":{"test":"datum.value % 100 === 0","value":6},"value":3},"title":"Number"}}}},
{"data":{"name":"gates"},"transform":[{"filter":"datum.p === 'A2'"}],"mark":{"type":"point","shape":"triangle-up","filled":true,"color":"black","size":45,"opacity":1},"encoding":{"x":{"field":"x","type":"quantitative"},"y":{"datum":0,"type":"quantitative"}}}
]},
{"data":{"name":"bars"},"transform":[{"filter":"datum.panel === 'A'"}],
"encoding":{"x":{"field":"phase","type":"nominal","sort":["G1","S","G2/M"],"scale":{"range":[741,943],"paddingInner":0.38,"paddingOuter":0.12,"align":0.8},"axis":{"orient":"bottom","offset":-1189,"title":null,"labelAngle":0,"labelFontSize":24,"labelFontWeight":"normal","tickSize":8,"tickWidth":2.5,"domainWidth":2.5,"labelPadding":10}}},
"layer":[
{"mark":{"type":"bar"},"encoding":{"xOffset":{"field":"group","type":"nominal","sort":["shCtrl","shHIGD2A.1"],"scale":{"paddingInner":0.05}},"y":{"field":"value","type":"quantitative","title":"Cell distribution (%)","scale":{"domain":[0,60],"range":[421,214],"nice":false},"axis":{"orient":"left","offset":-741,"values":[0,20,40,60],"format":"d","labelFontSize":24,"labelFontWeight":"normal","titleFontSize":25,"titleFontWeight":"normal","tickSize":8,"tickWidth":2.5,"domainWidth":2.5,"labelPadding":10,"titlePadding":6}},"color":{"field":"group","type":"nominal","scale":{"domain":["shCtrl","shHIGD2A.1"],"range":["#000000","#cc0000"]},"legend":{"orient":"none","legendX":744,"legendY":149,"direction":"vertical","title":null,"symbolType":"square","symbolSize":400,"symbolStrokeWidth":0,"labelFontSize":27,"labelFont":"Liberation Sans","labelOffset":8,"rowPadding":6,"labelLimit":0,"padding":0,"labelColor":{"expr":"datum.label === 'shHIGD2A.1' ? '#cc0000' : '#000000'"}}}}},
{"mark":{"type":"rule","strokeWidth":2},"encoding":{"xOffset":{"field":"group","type":"nominal","sort":["shCtrl","shHIGD2A.1"]},"y":{"field":"value","type":"quantitative","title":"Cell distribution (%)"},"y2":{"field":"upper"},"color":{"field":"group","type":"nominal","legend":null}}},
{"mark":{"type":"tick","thickness":2.5,"size":12},"encoding":{"xOffset":{"field":"group","type":"nominal","sort":["shCtrl","shHIGD2A.1"]},"y":{"field":"upper","type":"quantitative","title":"Cell distribution (%)"},"color":{"field":"group","type":"nominal","legend":null}}},
{"data":{"name":"stars"},"transform":[{"filter":"datum.panel === 'A'"}],"mark":{"type":"text","fontSize":26,"baseline":"alphabetic","dy":15},"encoding":{"y":{"field":"y","type":"quantitative","title":"Cell distribution (%)"},"text":{"field":"stars"}}}
]},
{"layer":[
{"data":{"name":"hist"},"transform":[{"filter":"datum.p === 'B1'"}],"mark":{"type":"area","color":"#8c8c8c"},"encoding":{
"x":{"field":"x","type":"quantitative","scale":{"domain":[0,2590],"range":[1103,1320],"nice":false,"zero":false},"axis":{"orient":"bottom","offset":-1221,"values":[0,100,200,300,400,500,600,700,800,900,1000,1100,1200,1300,1400,1500,1600,1700,1800,1900,2000,2100,2200,2300,2400,2500],"format":"d","labelExpr":"datum.value % 500 === 0 ? datum.label : ''","tickSize":{"condition":{"test":"datum.value % 500 === 0","value":6},"value":3},"title":"(×100)","titleFontSize":11}},
"y":{"field":"n","type":"quantitative","scale":{"domain":[0,1000],"range":[389,169],"nice":false,"zero":false},"axis":{"orient":"left","offset":-1103,"values":[0,50,100,150,200,250,300,350,400,450,500,550,600,650,700,750,800,850,900,950,1000],"format":"d","labelExpr":"datum.value % 200 === 0 ? datum.label : ''","tickSize":{"condition":{"test":"datum.value % 200 === 0","value":6},"value":3},"title":"Number"}}}},
{"data":{"name":"gates"},"transform":[{"filter":"datum.p === 'B1'"}],"mark":{"type":"point","shape":"triangle-up","filled":true,"color":"black","size":45,"opacity":1},"encoding":{"x":{"field":"x","type":"quantitative"},"y":{"datum":0,"type":"quantitative"}}}
]},
{"layer":[
{"data":{"name":"hist"},"transform":[{"filter":"datum.p === 'B2'"}],"mark":{"type":"area","color":"#8c8c8c"},"encoding":{
"x":{"field":"x","type":"quantitative","scale":{"domain":[0,2520],"range":[1369,1595],"nice":false,"zero":false},"axis":{"orient":"bottom","offset":-1217,"values":[0,100,200,300,400,500,600,700,800,900,1000,1100,1200,1300,1400,1500,1600,1700,1800,1900,2000,2100,2200,2300,2400,2500],"format":"d","labelExpr":"(datum.value % 500 === 0 && datum.value <= 2000) ? datum.label : ''","tickSize":{"condition":{"test":"datum.value % 500 === 0","value":6},"value":3},"title":"(×100)","titleFontSize":11}},
"y":{"field":"n","type":"quantitative","scale":{"domain":[0,180],"range":[393,163],"nice":false,"zero":false},"axis":{"orient":"left","offset":-1369,"values":[0,10,20,30,40,50,60,70,80,90,100,110,120,130,140,150,160,170,180],"format":"d","labelExpr":"datum.value % 50 === 0 ? datum.label : ''","tickSize":{"condition":{"test":"datum.value % 50 === 0","value":6},"value":3},"title":"Number"}}}},
{"data":{"name":"gates"},"transform":[{"filter":"datum.p === 'B2'"}],"mark":{"type":"point","shape":"triangle-up","filled":true,"color":"black","size":45,"opacity":1},"encoding":{"x":{"field":"x","type":"quantitative"},"y":{"datum":0,"type":"quantitative"}}}
]},
{"data":{"name":"bars"},"transform":[{"filter":"datum.panel === 'B'"}],
"encoding":{"x":{"field":"phase","type":"nominal","sort":["G1","S","G2/M"],"scale":{"range":[1713,1923],"paddingInner":0.33,"paddingOuter":0.19,"align":0.6},"axis":{"orient":"bottom","offset":-1189,"title":null,"labelAngle":0,"labelFontSize":24,"labelFontWeight":"normal","tickSize":8,"tickWidth":2.5,"domainWidth":2.5,"labelPadding":10}}},
"layer":[
{"mark":{"type":"bar"},"encoding":{"xOffset":{"field":"group","type":"nominal","sort":["shCtrl","shHIGD2A.1"],"scale":{"paddingInner":0.05}},"y":{"field":"value","type":"quantitative","title":"Cell distribution (%)","scale":{"domain":[0,80],"range":[421,215],"nice":false},"axis":{"orient":"left","offset":-1713,"values":[0,20,40,60,80],"format":"d","labelFontSize":24,"labelFontWeight":"normal","titleFontSize":25,"titleFontWeight":"normal","tickSize":8,"tickWidth":2.5,"domainWidth":2.5,"labelPadding":10,"titlePadding":6}},"color":{"field":"group","type":"nominal","scale":{"domain":["shCtrl","shHIGD2A.1"],"range":["#000000","#cc0000"]},"legend":{"orient":"none","legendX":1725,"legendY":147,"direction":"vertical","title":null,"symbolType":"square","symbolSize":400,"symbolStrokeWidth":0,"labelFontSize":27,"labelFont":"Liberation Sans","labelOffset":8,"rowPadding":6,"labelLimit":0,"padding":0,"labelColor":{"expr":"datum.label === 'shHIGD2A.1' ? '#cc0000' : '#000000'"}}}}},
{"mark":{"type":"rule","strokeWidth":2},"encoding":{"xOffset":{"field":"group","type":"nominal","sort":["shCtrl","shHIGD2A.1"]},"y":{"field":"value","type":"quantitative","title":"Cell distribution (%)"},"y2":{"field":"upper"},"color":{"field":"group","type":"nominal","legend":null}}},
{"mark":{"type":"tick","thickness":2.5,"size":12},"encoding":{"xOffset":{"field":"group","type":"nominal","sort":["shCtrl","shHIGD2A.1"]},"y":{"field":"upper","type":"quantitative","title":"Cell distribution (%)"},"color":{"field":"group","type":"nominal","legend":null}}},
{"data":{"name":"stars"},"transform":[{"filter":"datum.panel === 'B'"}],"mark":{"type":"text","fontSize":26,"baseline":"alphabetic","dy":15},"encoding":{"y":{"field":"y","type":"quantitative","title":"Cell distribution (%)"},"text":{"field":"stars"}}}
]},
{"layer":[
{"data":{"name":"hist"},"transform":[{"filter":"datum.p === 'C1'"}],"mark":{"type":"area","color":"#8c8c8c"},"encoding":{
"x":{"field":"x","type":"quantitative","scale":{"domain":[0,620],"range":[824,1059],"nice":false,"zero":false},"axis":{"orient":"bottom","offset":-668,"values":[0,20,40,60,80,100,120,140,160,180,200,220,240,260,280,300,320,340,360,380,400,420,440,460,480,500,520,540,560,580,600,620],"format":"d","labelExpr":"datum.value % 100 === 0 ? datum.label : ''","tickSize":{"condition":{"test":"datum.value % 100 === 0","value":6},"value":3},"title":"(×100)","titleFontSize":11}},
"y":{"field":"n","type":"quantitative","scale":{"domain":[0,1500],"range":[942,704],"nice":false,"zero":false},"axis":{"orient":"left","offset":-824,"values":[0,50,100,150,200,250,300,350,400,450,500,550,600,650,700,750,800,850,900,950,1000,1050,1100,1150,1200,1250,1300,1350,1400,1450,1500],"format":"d","labelExpr":"datum.value % 200 === 0 ? datum.label : ''","tickSize":{"condition":{"test":"datum.value % 200 === 0","value":6},"value":3},"title":"Number"}}}}
]},
{"layer":[
{"data":{"name":"hist"},"transform":[{"filter":"datum.p === 'C2'"}],"mark":{"type":"area","color":"#8c8c8c"},"encoding":{
"x":{"field":"x","type":"quantitative","scale":{"domain":[0,720],"range":[1093,1328],"nice":false,"zero":false},"axis":{"orient":"bottom","offset":-668,"values":[0,20,40,60,80,100,120,140,160,180,200,220,240,260,280,300,320,340,360,380,400,420,440,460,480,500,520,540,560,580,600,620,640,660,680,700,720],"format":"d","labelExpr":"datum.value % 100 === 0 ? datum.label : ''","tickSize":{"condition":{"test":"datum.value % 100 === 0","value":6},"value":3},"title":"(×100)","titleFontSize":11}},
"y":{"field":"n","type":"quantitative","scale":{"domain":[0,1800],"range":[942,707],"nice":false,"zero":false},"axis":{"orient":"left","offset":-1093,"values":[0,100,200,300,400,500,600,700,800,900,1000,1100,1200,1300,1400,1500,1600,1700,1800],"format":"d","labelExpr":"datum.value % 500 === 0 ? datum.label : ''","tickSize":{"condition":{"test":"datum.value % 500 === 0","value":6},"value":3},"title":"Number"}}}}
]},
{"layer":[
{"data":{"name":"hist"},"transform":[{"filter":"datum.p === 'C3'"}],"mark":{"type":"area","color":"#8c8c8c"},"encoding":{
"x":{"field":"x","type":"quantitative","scale":{"domain":[0,1230],"range":[1456,1685],"nice":false,"zero":false},"axis":{"orient":"bottom","offset":-665,"values":[0,50,100,150,200,250,300,350,400,450,500,550,600,650,700,750,800,850,900,950,1000,1050,1100,1150,1200],"format":"d","labelExpr":"datum.value % 200 === 0 ? datum.label : ''","tickSize":{"condition":{"test":"datum.value % 200 === 0","value":6},"value":3},"title":"(×100)","titleFontSize":11}},
"y":{"field":"n","type":"quantitative","scale":{"domain":[0,1500],"range":[945,713],"nice":false,"zero":false},"axis":{"orient":"left","offset":-1456,"values":[0,50,100,150,200,250,300,350,400,450,500,550,600,650,700,750,800,850,900,950,1000,1050,1100,1150,1200,1250,1300,1350,1400,1450,1500],"format":"d","labelExpr":"datum.value % 200 === 0 ? datum.label : ''","tickSize":{"condition":{"test":"datum.value % 200 === 0","value":6},"value":3},"title":"Number"}}}},
{"data":{"name":"gates"},"transform":[{"filter":"datum.p === 'C3'"}],"mark":{"type":"point","shape":"triangle-up","filled":true,"color":"black","size":45,"opacity":1},"encoding":{"x":{"field":"x","type":"quantitative"},"y":{"datum":0,"type":"quantitative"}}}
]},
{"layer":[
{"data":{"name":"hist"},"transform":[{"filter":"datum.p === 'C4'"}],"mark":{"type":"area","color":"#8c8c8c"},"encoding":{
"x":{"field":"x","type":"quantitative","scale":{"domain":[0,1215],"range":[1724,1945],"nice":false,"zero":false},"axis":{"orient":"bottom","offset":-665,"values":[0,50,100,150,200,250,300,350,400,450,500,550,600,650,700,750,800,850,900,950,1000,1050,1100,1150,1200],"format":"d","labelExpr":"datum.value % 200 === 0 ? datum.label : ''","tickSize":{"condition":{"test":"datum.value % 200 === 0","value":6},"value":3},"title":"(×100)","titleFontSize":11}},
"y":{"field":"n","type":"quantitative","scale":{"domain":[0,1500],"range":[945,714],"nice":false,"zero":false},"axis":{"orient":"left","offset":-1724,"values":[0,50,100,150,200,250,300,350,400,450,500,550,600,650,700,750,800,850,900,950,1000,1050,1100,1150,1200,1250,1300,1350,1400,1450,1500],"format":"d","labelExpr":"datum.value % 200 === 0 ? datum.label : ''","tickSize":{"condition":{"test":"datum.value % 200 === 0","value":6},"value":3},"title":"Number"}}}},
{"data":{"name":"gates"},"transform":[{"filter":"datum.p === 'C4'"}],"mark":{"type":"point","shape":"triangle-up","filled":true,"color":"black","size":45,"opacity":1},"encoding":{"x":{"field":"x","type":"quantitative"},"y":{"datum":0,"type":"quantitative"}}}
]},
{"layer":[
{"data":{"name":"hist"},"transform":[{"filter":"datum.p === 'D1'"}],"mark":{"type":"area","color":"#8c8c8c"},"encoding":{
"x":{"field":"x","type":"quantitative","scale":{"domain":[0,825],"range":[116,341],"nice":false,"zero":false},"axis":{"orient":"bottom","offset":-82,"values":[0,50,100,150,200,250,300,350,400,450,500,550,600,650,700,750,800],"format":"d","labelExpr":"datum.value % 200 === 0 ? datum.label : ''","tickSize":{"condition":{"test":"datum.value % 200 === 0","value":6},"value":3},"title":"(×100)","titleFontSize":11}},
"y":{"field":"n","type":"quantitative","scale":{"domain":[0,1500],"range":[1528,1296],"nice":false,"zero":false},"axis":{"orient":"left","offset":-116,"values":[0,50,100,150,200,250,300,350,400,450,500,550,600,650,700,750,800,850,900,950,1000,1050,1100,1150,1200,1250,1300,1350,1400,1450,1500],"format":"d","labelExpr":"datum.value % 200 === 0 ? datum.label : ''","tickSize":{"condition":{"test":"datum.value % 200 === 0","value":6},"value":3},"title":"Number"}}}},
{"data":{"name":"gates"},"transform":[{"filter":"datum.p === 'D1'"}],"mark":{"type":"point","shape":"triangle-up","filled":true,"color":"black","size":45,"opacity":1},"encoding":{"x":{"field":"x","type":"quantitative"},"y":{"datum":0,"type":"quantitative"}}}
]},
{"layer":[
{"data":{"name":"hist"},"transform":[{"filter":"datum.p === 'D2'"}],"mark":{"type":"area","color":"#8c8c8c"},"encoding":{
"x":{"field":"x","type":"quantitative","scale":{"domain":[0,725],"range":[387,612],"nice":false,"zero":false},"axis":{"orient":"bottom","offset":-83,"values":[0,20,40,60,80,100,120,140,160,180,200,220,240,260,280,300,320,340,360,380,400,420,440,460,480,500,520,540,560,580,600,620,640,660,680,700,720],"format":"d","labelExpr":"datum.value % 100 === 0 ? datum.label : ''","tickSize":{"condition":{"test":"datum.value % 100 === 0","value":6},"value":3},"title":"(×100)","titleFontSize":11}},
"y":{"field":"n","type":"quantitative","scale":{"domain":[0,1200],"range":[1527,1296],"nice":false,"zero":false},"axis":{"orient":"left","offset":-387,"values":[0,50,100,150,200,250,300,350,400,450,500,550,600,650,700,750,800,850,900,950,1000,1050,1100,1150,1200],"format":"d","labelExpr":"datum.value % 200 === 0 ? datum.label : ''","tickSize":{"condition":{"test":"datum.value % 200 === 0","value":6},"value":3},"title":"Number"}}}},
{"data":{"name":"gates"},"transform":[{"filter":"datum.p === 'D2'"}],"mark":{"type":"point","shape":"triangle-up","filled":true,"color":"black","size":45,"opacity":1},"encoding":{"x":{"field":"x","type":"quantitative"},"y":{"datum":0,"type":"quantitative"}}}
]},
{"data":{"name":"bars"},"transform":[{"filter":"datum.panel === 'D'"}],
"encoding":{"x":{"field":"phase","type":"nominal","sort":["G1/S","G2/M"],"scale":{"range":[734,950],"paddingInner":0.22,"paddingOuter":0.12,"align":0.5},"axis":{"orient":"bottom","offset":-48,"title":null,"labelAngle":0,"labelFontSize":24,"labelFontWeight":"normal","tickSize":8,"tickWidth":2.5,"domainWidth":2.5,"labelPadding":10}}},
"layer":[
{"mark":{"type":"bar"},"encoding":{"xOffset":{"field":"group","type":"nominal","sort":["shCtrl","shHIGD2A.1"],"scale":{"paddingInner":0.05}},"y":{"field":"value","type":"quantitative","title":"Cell distribution (%)","scale":{"domain":[0,100],"range":[1562,1356],"nice":false},"axis":{"orient":"left","offset":-734,"values":[0,20,40,60,80,100],"format":"d","labelFontSize":24,"labelFontWeight":"normal","titleFontSize":25,"titleFontWeight":"normal","tickSize":8,"tickWidth":2.5,"domainWidth":2.5,"labelPadding":10,"titlePadding":6}},"color":{"field":"group","type":"nominal","scale":{"domain":["shCtrl","shHIGD2A.1"],"range":["#000000","#cc0000"]},"legend":{"orient":"none","legendX":745,"legendY":1288,"direction":"vertical","title":null,"symbolType":"square","symbolSize":400,"symbolStrokeWidth":0,"labelFontSize":27,"labelFont":"Liberation Sans","labelOffset":21,"rowPadding":7,"labelLimit":0,"padding":0,"labelColor":{"expr":"datum.label === 'shHIGD2A.1' ? '#cc0000' : '#000000'"}}}}},
{"mark":{"type":"rule","strokeWidth":2},"encoding":{"xOffset":{"field":"group","type":"nominal","sort":["shCtrl","shHIGD2A.1"]},"y":{"field":"value","type":"quantitative","title":"Cell distribution (%)"},"y2":{"field":"upper"},"color":{"field":"group","type":"nominal","legend":null}}},
{"mark":{"type":"tick","thickness":2.5,"size":14},"encoding":{"xOffset":{"field":"group","type":"nominal","sort":["shCtrl","shHIGD2A.1"]},"y":{"field":"upper","type":"quantitative","title":"Cell distribution (%)"},"color":{"field":"group","type":"nominal","legend":null}}},
{"data":{"name":"stars"},"transform":[{"filter":"datum.panel === 'D'"}],"mark":{"type":"text","fontSize":26,"baseline":"alphabetic","dy":15},"encoding":{"y":{"field":"y","type":"quantitative","title":"Cell distribution (%)"},"text":{"field":"stars"}}}
]},
{"layer":[
{"data":{"name":"hist"},"transform":[{"filter":"datum.p === 'E1'"}],"mark":{"type":"area","color":"#8c8c8c"},"encoding":{
"x":{"field":"x","type":"quantitative","scale":{"domain":[0,2600],"range":[1095,1304],"nice":false,"zero":false},"axis":{"orient":"bottom","offset":-83,"values":[0,100,200,300,400,500,600,700,800,900,1000,1100,1200,1300,1400,1500,1600,1700,1800,1900,2000,2100,2200,2300,2400,2500,2600],"format":"d","labelExpr":"datum.value % 500 === 0 ? datum.label : ''","tickSize":{"condition":{"test":"datum.value % 500 === 0","value":6},"value":3},"title":"(×100)","titleFontSize":11}},
"y":{"field":"n","type":"quantitative","scale":{"domain":[0,420],"range":[1527,1313],"nice":false,"zero":false},"axis":{"orient":"left","offset":-1095,"values":[0,20,40,60,80,100,120,140,160,180,200,220,240,260,280,300,320,340,360,380,400,420],"format":"d","labelExpr":"datum.value % 100 === 0 ? datum.label : ''","tickSize":{"condition":{"test":"datum.value % 100 === 0","value":6},"value":3},"title":"Number"}}}},
{"data":{"name":"gates"},"transform":[{"filter":"datum.p === 'E1'"}],"mark":{"type":"point","shape":"triangle-up","filled":true,"color":"black","size":60,"opacity":1},"encoding":{"x":{"field":"x","type":"quantitative"},"y":{"datum":0,"type":"quantitative"}}}
]},
{"layer":[
{"data":{"name":"hist"},"transform":[{"filter":"datum.p === 'E2'"}],"mark":{"type":"area","color":"#8c8c8c"},"encoding":{
"x":{"field":"x","type":"quantitative","scale":{"domain":[0,2560],"range":[1364,1582],"nice":false,"zero":false},"axis":{"orient":"bottom","offset":-82,"values":[0,100,200,300,400,500,600,700,800,900,1000,1100,1200,1300,1400,1500,1600,1700,1800,1900,2000,2100,2200,2300,2400,2500],"format":"d","labelExpr":"datum.value % 500 === 0 ? datum.label : ''","tickSize":{"condition":{"test":"datum.value % 500 === 0","value":6},"value":3},"title":"(×100)","titleFontSize":11}},
"y":{"field":"n","type":"quantitative","scale":{"domain":[0,480],"range":[1528,1309],"nice":false,"zero":false},"axis":{"orient":"left","offset":-1364,"values":[0,20,40,60,80,100,120,140,160,180,200,220,240,260,280,300,320,340,360,380,400,420,440,460,480],"format":"d","labelExpr":"datum.value % 100 === 0 ? datum.label : ''","tickSize":{"condition":{"test":"datum.value % 100 === 0","value":6},"value":3},"title":"Number"}}}}
]},
{"data":{"name":"bars"},"transform":[{"filter":"datum.panel === 'E'"}],
"encoding":{"x":{"field":"phase","type":"nominal","sort":["G1/S","G2/M"],"scale":{"range":[1709,1927],"paddingInner":0.38,"paddingOuter":0.22,"align":0.4},"axis":{"orient":"bottom","offset":-48,"title":null,"labelAngle":0,"labelFontSize":24,"labelFontWeight":"normal","tickSize":8,"tickWidth":2.5,"domainWidth":2.5,"labelPadding":10}}},
"layer":[
{"mark":{"type":"bar"},"encoding":{"xOffset":{"field":"group","type":"nominal","sort":["shCtrl","shHIGD2A.1"],"scale":{"paddingInner":0.05}},"y":{"field":"value","type":"quantitative","title":"Cell distribution (%)","scale":{"domain":[0,80],"range":[1562,1356],"nice":false},"axis":{"orient":"left","offset":-1709,"values":[0,20,40,60,80],"format":"d","labelFontSize":24,"labelFontWeight":"normal","titleFontSize":25,"titleFontWeight":"normal","tickSize":8,"tickWidth":2.5,"domainWidth":2.5,"labelPadding":10,"titlePadding":6}},"color":{"field":"group","type":"nominal","scale":{"domain":["shCtrl","shHIGD2A.1"],"range":["#000000","#cc0000"]},"legend":{"orient":"none","legendX":1712,"legendY":1288,"direction":"vertical","title":null,"symbolType":"square","symbolSize":400,"symbolStrokeWidth":0,"labelFontSize":27,"labelFont":"Liberation Sans","labelOffset":12,"rowPadding":7,"labelLimit":0,"padding":0,"labelColor":{"expr":"datum.label === 'shHIGD2A.1' ? '#cc0000' : '#000000'"}}}}},
{"mark":{"type":"rule","strokeWidth":2},"encoding":{"xOffset":{"field":"group","type":"nominal","sort":["shCtrl","shHIGD2A.1"]},"y":{"field":"value","type":"quantitative","title":"Cell distribution (%)"},"y2":{"field":"upper"},"color":{"field":"group","type":"nominal","legend":null}}},
{"mark":{"type":"tick","thickness":2.5,"size":14},"encoding":{"xOffset":{"field":"group","type":"nominal","sort":["shCtrl","shHIGD2A.1"]},"y":{"field":"upper","type":"quantitative","title":"Cell distribution (%)"},"color":{"field":"group","type":"nominal","legend":null}}},
{"data":{"name":"stars"},"transform":[{"filter":"datum.panel === 'E'"}],"mark":{"type":"text","fontSize":26,"baseline":"alphabetic","dy":15},"encoding":{"y":{"field":"y","type":"quantitative","title":"Cell distribution (%)"},"text":{"field":"stars"}}}
]}
]
}
